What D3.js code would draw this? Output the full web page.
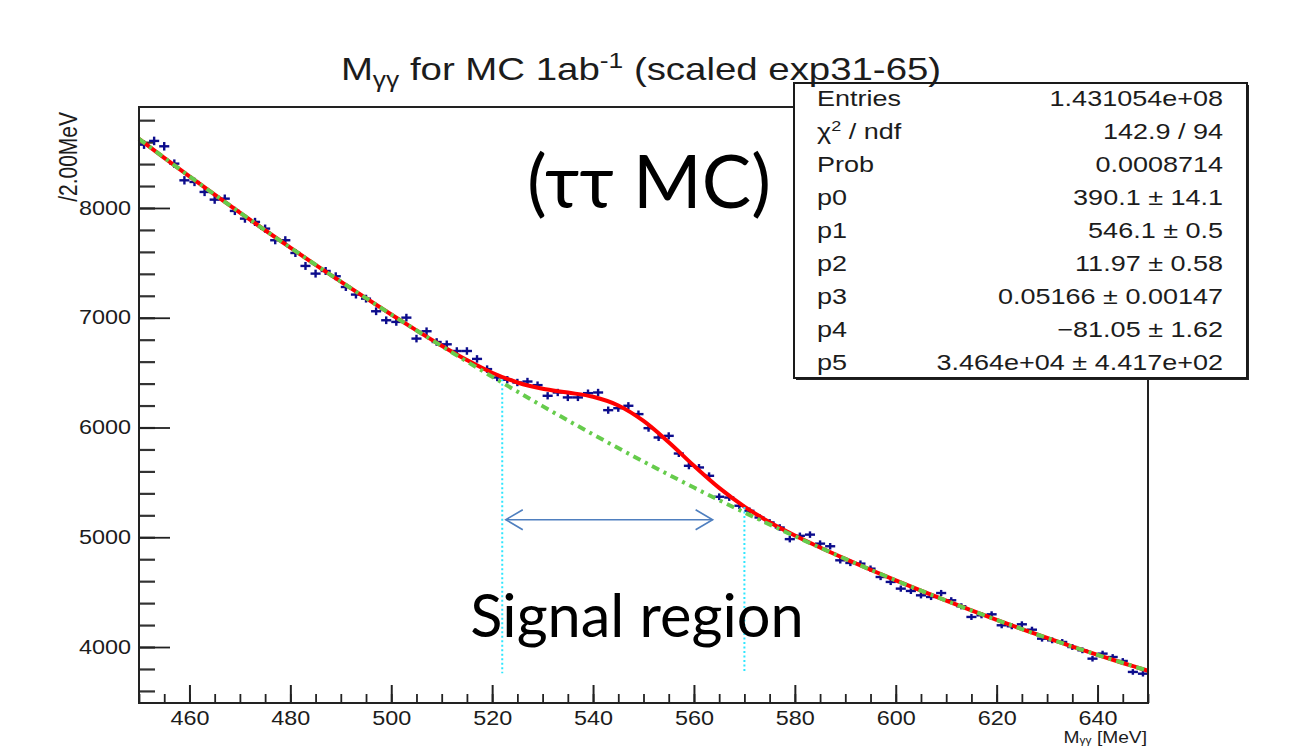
<!DOCTYPE html>
<html>
<head>
<meta charset="utf-8">
<script src="https://cdn.jsdelivr.net/npm/d3@7"></script>
<style>
  body { margin: 0; background: #fff; }
  svg { display: block; }
</style>
</head>
<body>
<div id="chart"></div>
<script>
// histogram bins (2 MeV wide) and contents
const binCenters = [
  451, 453, 455, 457, 459, 461, 463, 465, 467, 469,
  471, 473, 475, 477, 479, 481, 483, 485, 487, 489,
  491, 493, 495, 497, 499, 501, 503, 505, 507, 509,
  511, 513, 515, 517, 519, 521, 523, 525, 527, 529,
  531, 533, 535, 537, 539, 541, 543, 545, 547, 549,
  551, 553, 555, 557, 559, 561, 563, 565, 567, 569,
  571, 573, 575, 577, 579, 581, 583, 585, 587, 589,
  591, 593, 595, 597, 599, 601, 603, 605, 607, 609,
  611, 613, 615, 617, 619, 621, 623, 625, 627, 629,
  631, 633, 635, 637, 639, 641, 643, 645, 647, 649
];
const binCounts = [
  8577, 8611, 8562, 8404, 8252, 8237, 8146, 8076, 8085, 7973,
  7903, 7873, 7812, 7706, 7706, 7590, 7472, 7402, 7426, 7378,
  7280, 7211, 7174, 7059, 6977, 6962, 7001, 6810, 6877, 6779,
  6758, 6697, 6697, 6625, 6532, 6456, 6435, 6410, 6419, 6386,
  6289, 6319, 6274, 6274, 6313, 6319, 6158, 6176, 6198, 6122,
  5994, 5909, 5924, 5763, 5651, 5636, 5560, 5369, 5362, 5287,
  5241, 5180, 5135, 5089, 4983, 5013, 5024, 4942, 4918, 4790,
  4766, 4760, 4714, 4638, 4593, 4532, 4511, 4471, 4456, 4492,
  4426, 4371, 4274, 4289, 4298, 4198, 4189, 4207, 4158, 4076,
  4061, 4046, 4000, 3970, 3894, 3940, 3909, 3873, 3773, 3757
];
const errPerSqrt = 0.42;

// total fit (red) sampled every 5 MeV
const fitMass = [
  450, 455, 460, 465, 470, 475, 480, 485, 490, 495, 500,
  505, 510, 515, 520, 525, 530, 535, 540, 545, 550,
  555, 560, 565, 570, 575, 580, 585, 590, 595, 600,
  605, 610, 615, 620, 625, 630, 635, 640, 645, 650
];
const fitTotal = [
  8628.7, 8457.2, 8288.3, 8121.9, 7958.2, 7797.0, 7638.5, 7482.5, 7329.1, 7178.3, 7030.0,
  6885.4, 6745.4, 6614.1, 6499.1, 6410.0, 6352.7, 6318.4, 6279.7, 6200.6, 6059.6,
  5865.7, 5651.4, 5450.1, 5278.9, 5137.4, 5016.5, 4907.1, 4803.8, 4704.2, 4607.6,
  4513.6, 4422.2, 4333.4, 4247.1, 4163.4, 4082.4, 4003.9, 3927.9, 3854.6, 3783.9
];

// background only (green dash-dot) every 10 MeV
const bkgMass = [450, 460, 470, 480, 490, 500, 510, 520, 530, 540, 550,
                 560, 570, 580, 590, 600, 610, 620, 630, 640, 650];
const bkgFit = [8628.7, 8288.3, 7958.2, 7638.5, 7329.1, 7030.0, 6741.3, 6462.9, 6194.8, 5937.1, 5689.7,
                5452.6, 5225.8, 5009.4, 4803.4, 4607.6, 4422.2, 4247.1, 4082.4, 3927.9, 3783.9];

// signal window markers
const signalCuts = [522, 570];
const cutTops = [6440, 5275];
const cutFloor = 3760;
const arrowSpan = [522.7, 563.7];
const arrowLevel = 5160;

const xMajorTicks = [460, 480, 500, 520, 540, 560, 580, 600, 620, 640];
const yMajorTicks = [4000, 5000, 6000, 7000, 8000];

const statLabels = ["Entries", "χ2 / ndf", "Prob", "p0", "p1", "p2", "p3", "p4", "p5"];
const statValues = ["1.431054e+08", "142.9 / 94", "0.0008714", "390.1 ± 14.1", "546.1 ± 0.5",
                    "11.97 ± 0.58", "0.05166 ± 0.00147", "−81.05 ± 1.62", "3.464e+04 ± 4.417e+02"];

const W = 1303, H = 746;
const frame = { left: 139, right: 1148, top: 107, bottom: 703 };
const stretch = 1.2;   // the ROOT picture is stretched sideways on the slide
const rootFont = "'Liberation Sans', Arial, Helvetica, sans-serif";
const slideFont = "Lato, 'Open Sans', 'Noto Sans', sans-serif";
const ink = "#1c1c1c";

const svg = d3.select("#chart").append("svg")
  .attr("width", W)
  .attr("height", H);

svg.append("rect").attr("width", W).attr("height", H).attr("fill", "#fff");

const x = d3.scaleLinear().domain([450, 650]).range([frame.left, frame.right]);
const y = d3.scaleLinear().domain([3490, 8920]).range([frame.bottom, frame.top]);

function rootText(parent, tx, ty, size, anchor) {
  return parent.append("text")
    .attr("transform", `translate(${tx},${ty}) scale(${stretch},1)`)
    .attr("text-anchor", anchor)
    .style("font-family", rootFont)
    .style("font-size", size + "px")
    .attr("fill", ink);
}

// ---- axes ----
const xMinor = d3.range(450, 651, 5);
const yMinor = d3.range(3600, 8801, 200);

svg.append("g")
  .attr("transform", `translate(0,${frame.bottom})`)
  .call(d3.axisBottom(x).tickValues(xMinor).tickSize(-9).tickFormat(""))
  .call(g => g.select(".domain").remove())
  .call(g => g.selectAll("line").attr("stroke", "#222").attr("stroke-width", 1.8));

const xAxis = svg.append("g")
  .attr("transform", `translate(0,${frame.bottom})`)
  .call(d3.axisBottom(x).tickValues(xMajorTicks).tickSize(-18).tickPadding(8).tickFormat(d3.format("d")))
  .call(g => g.select(".domain").remove())
  .call(g => g.selectAll("line").attr("stroke", "#222").attr("stroke-width", 2));

xAxis.selectAll("text")
  .attr("transform", `scale(${stretch},1)`)
  .style("font-family", rootFont)
  .style("font-size", "19.5px")
  .attr("fill", ink);

svg.append("g")
  .attr("transform", `translate(${frame.left},0)`)
  .call(d3.axisLeft(y).tickValues(yMinor).tickSize(-16).tickFormat(""))
  .call(g => g.select(".domain").remove())
  .call(g => g.selectAll("line").attr("stroke", "#333").attr("stroke-width", 2.2));

const yAxis = svg.append("g")
  .attr("transform", `translate(${frame.left},0)`)
  .call(d3.axisLeft(y).tickValues(yMajorTicks).tickSize(-31).tickPadding(8).tickFormat(d3.format("d")))
  .call(g => g.select(".domain").remove())
  .call(g => g.selectAll("line").attr("stroke", "#222").attr("stroke-width", 1.8));

yAxis.selectAll("text")
  .attr("x", 0)
  .attr("transform", `translate(-8,0) scale(${stretch},1)`)
  .style("font-family", rootFont)
  .style("font-size", "19.5px")
  .attr("fill", ink);

// ---- data points ----
const points = binCenters.map((m, i) => ({ m, n: binCounts[i], e: errPerSqrt * Math.sqrt(binCounts[i]) }));

const dots = svg.append("g")
  .attr("stroke", "#0c0c8c")
  .attr("stroke-width", 2.4);

dots.selectAll(".hbar")
  .data(points)
  .enter().append("line")
  .attr("class", "hbar")
  .attr("x1", d => x(d.m - 1))
  .attr("x2", d => x(d.m + 1))
  .attr("y1", d => y(d.n))
  .attr("y2", d => y(d.n));

dots.selectAll(".vbar")
  .data(points)
  .enter().append("line")
  .attr("class", "vbar")
  .attr("x1", d => x(d.m))
  .attr("x2", d => x(d.m))
  .attr("y1", d => y(d.n - d.e))
  .attr("y2", d => y(d.n + d.e));

// ---- fit curves ----
const line = d3.line()
  .x(d => x(d[0]))
  .y(d => y(d[1]))
  .curve(d3.curveCatmullRom);

svg.append("path")
  .datum(fitMass.map((m, i) => [m, fitTotal[i]]))
  .attr("fill", "none")
  .attr("stroke", "#ff0000")
  .attr("stroke-width", 4)
  .attr("d", line);

svg.append("path")
  .datum(bkgMass.map((m, i) => [m, bkgFit[i]]))
  .attr("fill", "none")
  .attr("stroke", "#66cc4c")
  .attr("stroke-width", 4)
  .attr("stroke-dasharray", "8,5,3,5")
  .attr("d", line);

// ---- signal window ----
svg.selectAll(".cut")
  .data(signalCuts)
  .enter().append("line")
  .attr("class", "cut")
  .attr("x1", d => x(d))
  .attr("x2", d => x(d))
  .attr("y1", (d, i) => y(cutTops[i]))
  .attr("y2", y(cutFloor))
  .attr("stroke", "#2ee6ff")
  .attr("stroke-width", 2)
  .attr("stroke-dasharray", "2,2.5");

const arrowColor = "#4f7fbf";
const ax0 = x(arrowSpan[0]), ax1 = x(arrowSpan[1]), ay = y(arrowLevel);
const arrow = svg.append("g")
  .attr("stroke", arrowColor)
  .attr("stroke-width", 1.6)
  .attr("fill", "none");
arrow.append("line").attr("x1", ax0).attr("x2", ax1).attr("y1", ay).attr("y2", ay);
arrow.append("path").attr("d", `M${ax0 + 17},${ay - 10}L${ax0},${ay}L${ax0 + 17},${ay + 10}`);
arrow.append("path").attr("d", `M${ax1 - 17},${ay - 10}L${ax1},${ay}L${ax1 - 17},${ay + 10}`);

// ---- frame ----
svg.append("rect")
  .attr("x", frame.left)
  .attr("y", frame.top)
  .attr("width", frame.right - frame.left)
  .attr("height", frame.bottom - frame.top)
  .attr("fill", "none")
  .attr("stroke", "#222")
  .attr("stroke-width", 2);

// ---- stats box ----
const box = { x: 794, y: 83, w: 453, h: 295 };
svg.append("rect")
  .attr("x", box.x + 2).attr("y", box.y + 2)
  .attr("width", box.w).attr("height", box.h)
  .attr("fill", "#222");
svg.append("rect")
  .attr("x", box.x).attr("y", box.y)
  .attr("width", box.w).attr("height", box.h)
  .attr("fill", "#fff")
  .attr("stroke", "#1a1a1a")
  .attr("stroke-width", 2);

const rowStep = 33, firstRow = 106;
statLabels.forEach((lab, i) => {
  const t = rootText(svg, 817, firstRow + i * rowStep, 22.5, "start");
  if (lab.startsWith("χ2")) {
    t.append("tspan").text("χ");
    t.append("tspan").attr("dy", -8).style("font-size", "15px").text("2");
    t.append("tspan").attr("dy", 8).text(" / ndf");
  } else {
    t.text(lab);
  }
  rootText(svg, 1223, firstRow + i * rowStep, 22.5, "end").text(statValues[i]);
});

// ---- titles ----
const title = rootText(svg, 641, 80, 32, "middle");
title.append("tspan").text("M");
title.append("tspan").attr("dy", 7).style("font-size", "22px").text("γγ");
title.append("tspan").attr("dy", -7).text(" for MC 1ab");
title.append("tspan").attr("dy", -12).style("font-size", "22px").text("-1");
title.append("tspan").attr("dy", 12).text(" (scaled exp31-65)");

svg.append("text")
  .attr("transform", `translate(77,112) scale(${stretch},1) rotate(-90)`)
  .attr("text-anchor", "end")
  .style("font-family", rootFont)
  .style("font-size", "21px")
  .attr("fill", ink)
  .text("/2.00MeV");

const xTitle = rootText(svg, 1147, 743, 16, "end");
xTitle.append("tspan").text("M");
xTitle.append("tspan").attr("dy", 1).style("font-size", "10px").text("γγ");
xTitle.append("tspan").attr("dy", -1).text(" [MeV]");

// ---- slide annotations ----
svg.append("text")
  .attr("x", 649)
  .attr("y", 208)
  .attr("text-anchor", "middle")
  .style("font-family", slideFont)
  .style("font-size", "74px")
  .attr("fill", "#000")
  .text("(ττ MC)");

svg.append("text")
  .attr("x", 637)
  .attr("y", 637)
  .attr("text-anchor", "middle")
  .style("font-family", slideFont)
  .style("font-size", "59.5px")
  .attr("fill", "#000")
  .text("Signal region");
</script>
</body>
</html>
